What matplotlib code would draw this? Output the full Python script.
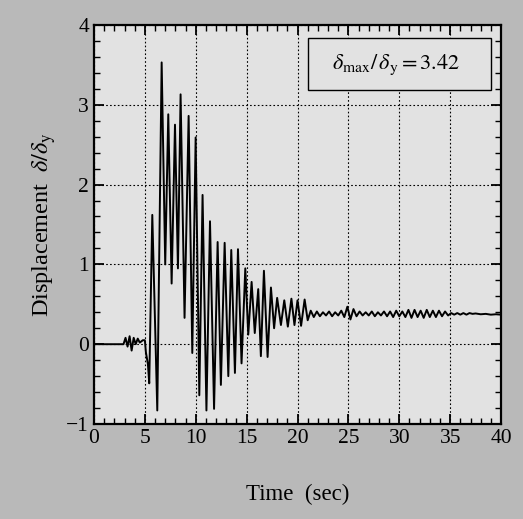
import matplotlib
matplotlib.use('Agg')
import matplotlib.pyplot as plt
from matplotlib.ticker import MultipleLocator
from matplotlib.patches import Rectangle

plt.rcParams['font.family'] = ['Liberation Serif', 'DejaVu Serif']
plt.rcParams['mathtext.fontset'] = 'stix'

# 응답 변위 이력 (꺾이는 점, 그림에서 읽은 값)
t_main = [0.0, 2.9, 3.1, 3.3, 3.5, 3.7, 3.9, 4.1, 4.3, 4.5, 4.8, 5.0, 5.1, 5.3,
          5.43, 5.73, 6.22, 6.65, 7.0, 7.3, 7.63, 7.96, 8.25, 8.51, 8.9, 9.3,
          9.66, 9.99, 10.35, 10.67, 11.05, 11.4, 11.8, 12.15, 12.47, 12.84,
          13.2, 13.49, 13.85, 14.15, 14.5, 14.87, 15.16, 15.49, 15.8, 16.14,
          16.4, 16.7, 17.06, 17.39, 17.7, 18.0, 18.37, 18.7, 19.05, 19.4,
          19.7, 20.0, 20.35, 20.7, 21.0]
v_main = [0.0, 0.0, 0.08, -0.03, 0.1, -0.08, 0.08, 0.0, 0.07, 0.02, 0.05, 0.05, -0.1, -0.25,
          -0.49, 1.62, -0.83, 3.53, 1.0, 2.88, 0.76, 2.75, 0.95, 3.13, 0.33, 2.86,
          -0.11, 2.59, -0.64, 1.87, -0.83, 1.54, -0.81, 1.28, -0.51, 1.27,
          -0.4, 1.18, -0.36, 1.19, -0.24, 0.95, 0.12, 0.78, 0.14, 0.69,
          -0.15, 0.92, -0.16, 0.71, 0.2, 0.58, 0.24, 0.55, 0.22, 0.57,
          0.24, 0.55, 0.23, 0.56, 0.3]

# 21초 이후 잔류 변위 부근의 작은 진동
t_tail = [21.3, 21.6, 21.9, 22.2, 22.5, 22.8, 23.1, 23.4, 23.7, 24.0, 24.3, 24.6,
          24.9, 25.2, 25.5, 25.8, 26.1, 26.4, 26.7, 27.0, 27.3, 27.6, 27.9, 28.2,
          28.5, 28.8, 29.1, 29.4, 29.7, 30.0, 30.3, 30.6, 30.9, 31.2, 31.5, 31.8,
          32.1, 32.4, 32.7, 33.0, 33.3, 33.6, 33.9, 34.2, 34.5, 34.8, 35.1, 35.4,
          35.7, 36.0, 36.3, 36.6, 36.9, 37.2, 37.5, 38.0, 38.5, 39.0, 39.5, 40.0]
v_tail = [0.42, 0.34, 0.41, 0.35, 0.40, 0.36, 0.41, 0.35, 0.40, 0.36, 0.42, 0.34,
          0.47, 0.31, 0.44, 0.35, 0.41, 0.36, 0.40, 0.36, 0.41, 0.35, 0.40, 0.36,
          0.41, 0.35, 0.41, 0.34, 0.42, 0.35, 0.41, 0.34, 0.43, 0.33, 0.43, 0.34,
          0.42, 0.33, 0.43, 0.34, 0.42, 0.34, 0.42, 0.35, 0.41, 0.36, 0.39, 0.37,
          0.39, 0.37, 0.39, 0.37, 0.39, 0.38, 0.385, 0.375, 0.38, 0.37, 0.375, 0.37]

t = t_main + t_tail
v = v_main + v_tail

fig = plt.figure(figsize=(5.23, 5.19), dpi=100, facecolor='#b9b9b9')
ax = fig.add_axes([0.1797, 0.183, 0.7783, 0.769])
ax.set_facecolor('#e2e2e2')

ax.plot(t, v, color='black', lw=1.4)

ax.set_xlim(0, 40)
ax.set_ylim(-1, 4)
ax.xaxis.set_major_locator(MultipleLocator(5))
ax.xaxis.set_minor_locator(MultipleLocator(1))
ax.yaxis.set_major_locator(MultipleLocator(1))
ax.yaxis.set_minor_locator(MultipleLocator(0.2))
ax.tick_params(which='both', direction='in', top=True, right=True, labelsize=15.5)
ax.tick_params(which='major', length=7, width=1.3)
ax.tick_params(which='minor', length=4, width=1.0)
for s in ax.spines.values():
    s.set_linewidth(1.6)

ax.grid(True, which='major', linestyle=(0, (1.5, 2)), color='black', lw=0.8)

ax.set_xlabel('Time  (sec)', fontsize=16.5, labelpad=26)
ax.set_ylabel(r'Displacement  $\delta/\delta_{\rm y}$', fontsize=17.5, labelpad=6)

# 최대 응답 표시 상자
ax.add_patch(Rectangle((0.526, 0.837), 0.449, 0.13, transform=ax.transAxes,
                       facecolor='#e2e2e2', edgecolor='black', lw=1.0, zorder=3))
ax.text(0.743, 0.9, r'$\delta_{\rm max}/\,\delta_{\rm y}=3.42$', transform=ax.transAxes,
        ha='center', va='center', fontsize=16, zorder=4)

fig.savefig('out.png', dpi=100, facecolor=fig.get_facecolor())
